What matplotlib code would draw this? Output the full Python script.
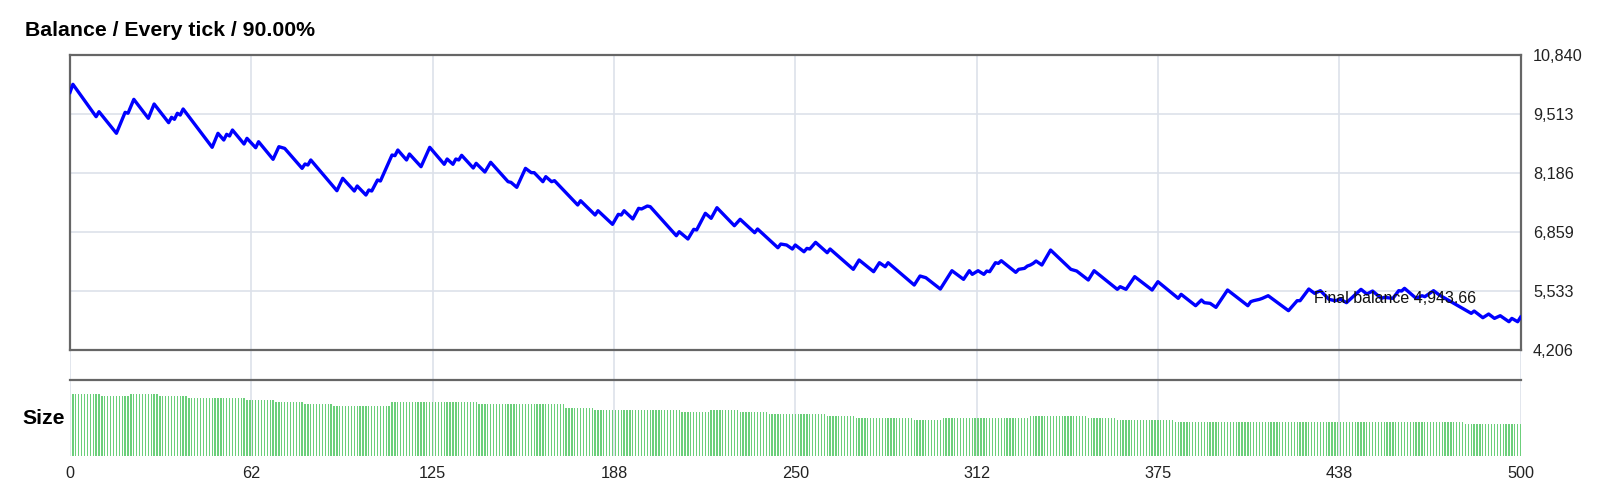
import matplotlib
matplotlib.use("Agg")
import matplotlib.pyplot as plt
import numpy as np

plt.rcParams['font.family'] = ['Liberation Sans', 'DejaVu Sans']

title = 'Balance / Every tick / 90.00%'
final_label = 'Final balance 4,943.66'

# balance curve, turning points (trade number, balance)
trade_no = [0, 1, 9, 10, 16, 19, 20, 22, 27, 29, 34, 35, 36, 37, 38, 39, 49, 51, 53, 54,
            55, 56, 60, 61, 64, 65, 70, 72, 74, 80, 81, 82, 83, 92, 94, 98, 99, 102, 103, 104,
            106, 107, 111, 112, 113, 116, 117, 121, 124, 129, 130, 132, 133, 134, 135, 139, 140, 143, 145, 151,
            152, 154, 157, 159, 160, 163, 164, 166, 167, 175, 176, 181, 182, 187, 189, 190, 191, 194, 196, 197,
            199, 200, 209, 210, 213, 215, 216, 219, 221, 223, 229, 231, 236, 237, 244, 245, 247, 249, 250, 253,
            254, 255, 257, 261, 262, 270, 272, 277, 279, 281, 282, 291, 293, 295, 300, 304, 308, 310, 311, 313,
            315, 316, 317, 319, 320, 321, 326, 327, 329, 330, 331, 332, 333, 335, 338, 345, 347, 351, 353, 361,
            362, 364, 367, 373, 375, 382, 383, 388, 390, 391, 393, 395, 399, 406, 407, 408, 410, 411, 413, 420,
            423, 424, 427, 429, 431, 434, 436, 438, 440, 442, 445, 447, 449, 452, 453, 456, 458, 459, 460, 464,
            466, 467, 469, 470, 472, 483, 484, 487, 489, 491, 493, 496, 497, 499, 500]
balance = [10000, 10181, 9453, 9565, 9079, 9551, 9530, 9843, 9416, 9738, 9318, 9439, 9394, 9529, 9490, 9626, 8764, 9079, 8928, 9056,
           9019, 9153, 8838, 8966, 8755, 8890, 8494, 8778, 8740, 8291, 8389, 8366, 8479, 7788, 8067, 7781, 7894, 7691, 7804, 7781,
           8029, 8006, 8591, 8576, 8703, 8479, 8614, 8328, 8764, 8382, 8501, 8382, 8501, 8479, 8584, 8299, 8404, 8209, 8427, 7991,
           7976, 7864, 8291, 8194, 8194, 7991, 8104, 7991, 8014, 7467, 7563, 7242, 7338, 7032, 7257, 7242, 7338, 7152, 7392, 7377,
           7444, 7429, 6776, 6866, 6702, 6920, 6905, 7280, 7167, 7406, 7001, 7145, 6844, 6927, 6506, 6589, 6567, 6477, 6567, 6416,
           6491, 6477, 6627, 6394, 6477, 6020, 6230, 5967, 6169, 6079, 6169, 5667, 5870, 5832, 5577, 5989, 5795, 5989, 5907, 5989,
           5907, 5982, 5967, 6169, 6154, 6214, 5952, 6020, 6042, 6094, 6117, 6154, 6207, 6117, 6454, 6020, 5982, 5780, 5989, 5570,
           5630, 5570, 5855, 5555, 5742, 5368, 5458, 5202, 5330, 5270, 5255, 5165, 5555, 5202, 5293, 5315, 5345, 5368, 5427, 5090,
           5315, 5315, 5577, 5480, 5540, 5345, 5315, 5345, 5270, 5390, 5570, 5465, 5532, 5368, 5390, 5368, 5540, 5532, 5593, 5368,
           5427, 5405, 5495, 5540, 5443, 5030, 5082, 4932, 5015, 4917, 4977, 4842, 4917, 4842, 4944]

# trade size (lots), one value per block of 10 trades
size_blocks = [0.31, 0.30, 0.31, 0.30, 0.29, 0.29, 0.28, 0.27, 0.26, 0.25,
               0.25, 0.27, 0.27, 0.27, 0.26, 0.26, 0.26, 0.24, 0.23, 0.23,
               0.23, 0.22, 0.23, 0.22, 0.21, 0.21, 0.20, 0.19, 0.19, 0.18,
               0.19, 0.19, 0.19, 0.20, 0.20, 0.19, 0.18, 0.18, 0.17, 0.17,
               0.17, 0.17, 0.17, 0.17, 0.17, 0.17, 0.17, 0.17, 0.16, 0.16]
block_len = 10

y_ticks = [4206, 5533, 6859, 8186, 9513, 10840]
y_labels = ['4,206', '5,533', '6,859', '8,186', '9,513', '10,840']
x_ticks = [0, 62.5, 125, 187.5, 250, 312.5, 375, 437.5, 500]
x_labels = ['0', '62', '125', '188', '250', '312', '375', '438', '500']

grid_c = '#dde1ea'
frame_c = '#666666'

fig = plt.figure(figsize=(16, 5), dpi=100)

# background axes only for the vertical grid lines running through both panels
bg = fig.add_axes([0.04375, 0.088, 0.9066, 0.802])
bg.set_xlim(0, 500)
bg.set_xticks(x_ticks)
bg.tick_params(length=0, labelbottom=False, labelleft=False)
bg.set_yticks([])
bg.grid(axis='x', color=grid_c, lw=1.2)
for s in bg.spines.values():
    s.set_visible(False)

# balance panel
ax = fig.add_axes([0.04375, 0.30, 0.9066, 0.59])
ax.patch.set_alpha(0)
ax.plot(trade_no, balance, color='#0000ff', lw=2.4, zorder=3)
ax.set_xlim(0, 500)
ax.set_ylim(y_ticks[0], y_ticks[-1])
ax.set_xticks([])
ax.yaxis.tick_right()
ax.set_yticks(y_ticks)
ax.set_yticklabels(y_labels)
ax.tick_params(axis='y', length=0, pad=9, labelsize=11.7, labelcolor='#222222')
ax.grid(axis='y', color=grid_c, lw=1.2)
for s in ax.spines.values():
    s.set_color(frame_c)
    s.set_linewidth(1.6)
ax.text(456.7, 5375, final_label, ha='center', va='center', fontsize=11.5,
        color='#111111', zorder=4)

# size panel
sizes = np.repeat(size_blocks, block_len)
ax2 = fig.add_axes([0.04375, 0.088, 0.9066, 0.152])
ax2.patch.set_alpha(0)
ax2.bar(np.arange(1, len(sizes) + 1), sizes, width=0.45, color='#6ccf7b', linewidth=0)
ax2.set_xlim(0, 500)
ax2.set_ylim(0, 0.38)
ax2.set_yticks([])
ax2.set_xticks(x_ticks)
ax2.set_xticklabels(x_labels)
ax2.tick_params(axis='x', length=0, pad=7, labelsize=11.7, labelcolor='#222222')
for k in ['left', 'right', 'bottom']:
    ax2.spines[k].set_visible(False)
ax2.spines['top'].set_color(frame_c)
ax2.spines['top'].set_linewidth(1.6)

fig.text(25 / 1600, 1 - 30 / 500, title, fontsize=15.3, fontweight='bold', va='center')
fig.text(22 / 1600, 1 - 418 / 500, 'Size', fontsize=15.3, fontweight='bold', va='center')

fig.savefig('out.png', dpi=100)
